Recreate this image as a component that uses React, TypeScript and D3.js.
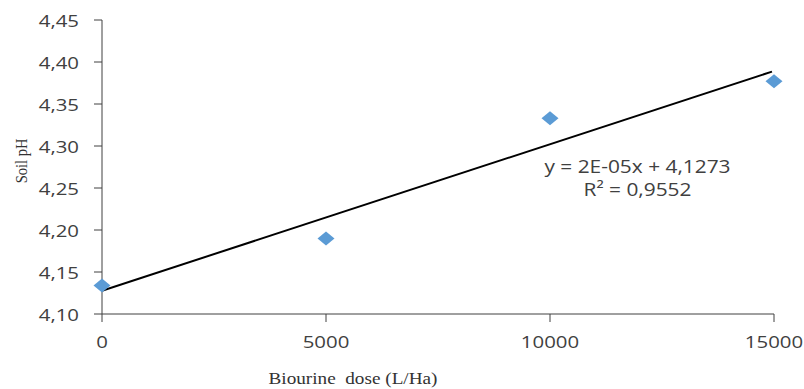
import React from "react";
import * as d3 from "d3";

const doses = [0, 5000, 10000, 15000];
const soilPH = [4.134, 4.19, 4.333, 4.377];
const yTicks = [4.1, 4.15, 4.2, 4.25, 4.3, 4.35, 4.4, 4.45];
const xTicks = [0, 5000, 10000, 15000];
const equationLines = ["y = 2E-05x + 4,1273", "R² = 0,9552"];

const sans = "'Open Sans', 'Noto Sans', sans-serif";
const serif = "'Liberation Serif', 'Times New Roman', serif";

function SText(props: {
  x: number; y: number; sx?: number; anchor?: string; size: number;
  family: string; fill: string; children: React.ReactNode;
}) {
  const { x, y, sx = 1.2, anchor = "middle", size, family, fill, children } = props;
  return (
    <text
      transform={`translate(${x},${y}) scale(${sx},1)`}
      dy="0.35em"
      textAnchor={anchor}
      fontFamily={family}
      fontSize={size}
      fill={fill}
      style={{ whiteSpace: "pre" }}
    >
      {children}
    </text>
  );
}

export default function App() {
  const W = 804, H = 389;
  const x = d3.scaleLinear().domain([0, 15000]).range([102, 774]);
  const y = d3.scaleLinear().domain([4.1, 4.45]).range([314, 20]);
  const fmt = (v: number) => v.toFixed(2).replace(".", ",");

  const mx = d3.mean(doses)!;
  const my = d3.mean(soilPH)!;
  const slope =
    d3.sum(doses.map((d, i) => (d - mx) * (soilPH[i] - my))) /
    d3.sum(doses.map((d) => (d - mx) ** 2));
  const intercept = my - slope * mx;
  const trend = d3.line<number>()
    .x((d) => x(d))
    .y((d) => y(intercept + slope * d));
  const trendPath = trend([0, 15000 * 0.997])!;

  const tickColor = "#404040";

  return (
    <svg width={W} height={H} style={{ position: "absolute", left: 0, top: 0, background: "#fff" }}>
      {/* axes */}
      <line x1={x(0)} x2={x(0)} y1={y(4.45)} y2={y(4.1)} stroke="#404040" strokeWidth={1} />
      <line x1={x(0)} x2={x(15000)} y1={y(4.1)} y2={y(4.1)} stroke="#404040" strokeWidth={1} />
      {yTicks.map((t) => (
        <g key={"y" + t}>
          <line x1={x(0) - 8} x2={x(0)} y1={y(t)} y2={y(t)} stroke="#404040" />
          <SText x={x(0) - 23} y={y(t) + 1} anchor="end" size={17} family={sans} fill={tickColor}>
            {fmt(t)}
          </SText>
        </g>
      ))}
      {xTicks.map((t) => (
        <g key={"x" + t}>
          <line x1={x(t)} x2={x(t)} y1={y(4.1)} y2={y(4.1) + 8} stroke="#404040" />
          <SText x={x(t)} y={342} size={17} family={sans} fill={tickColor}>
            {String(t)}
          </SText>
        </g>
      ))}
      {/* trend line */}
      <path d={trendPath} fill="none" stroke="#000" strokeWidth={2} />
      {/* points */}
      {doses.map((d, i) => {
        const cx = x(d), cy = y(soilPH[i]), rx = 8.5, ry = 7;
        return (
          <path
            key={"p" + i}
            d={`M${cx},${cy - ry}L${cx + rx},${cy}L${cx},${cy + ry}L${cx - rx},${cy}Z`}
            fill="#5B9BD5"
          />
        );
      })}
      {/* equation */}
      {equationLines.map((l, i) => (
        <SText key={"e" + i} x={637.5} y={167 + i * 23} sx={1.16} size={18} family={sans} fill="#404040">
          {l}
        </SText>
      ))}
      {/* axis titles */}
      <SText x={353} y={378} size={16} family={serif} fill="#333">
        {"Biourine  dose (L/Ha)"}
      </SText>
      <text transform={`translate(21,161) rotate(-90) scale(1,1.2)`} dy="0.35em" textAnchor="middle" fontFamily={serif} fontSize={14.5} fill="#333">
        Soil pH
      </text>
    </svg>
  );
}
